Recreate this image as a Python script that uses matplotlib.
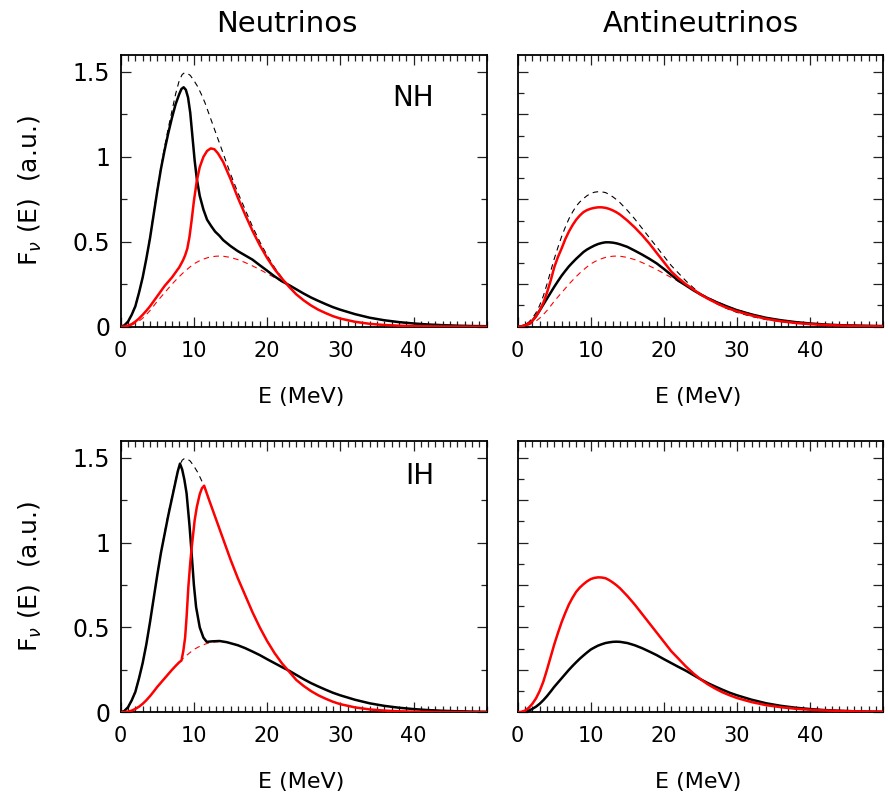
import matplotlib
matplotlib.use('Agg')
import matplotlib.pyplot as plt
from matplotlib.ticker import MultipleLocator

# ---------------- data ----------------
# unoscillated nu_e spectrum (dashed black, neutrino panels)
E_nue = [0, 0.5, 1, 1.5, 2, 2.5, 3, 3.5, 4, 4.5, 5, 5.5, 6, 6.5, 7, 7.5, 8, 8.4, 8.7, 9.1,
         9.5, 10, 10.5, 11, 11.5, 12, 12.5, 13, 13.5, 14, 15, 16, 17, 18, 19, 20,
         21, 22, 23, 24, 25, 26, 27, 28, 29, 30, 32, 34, 36, 38, 40, 44, 50]
nue_orig = [0, 0.008, 0.03, 0.07, 0.125, 0.2, 0.29, 0.4, 0.53, 0.67, 0.81, 0.94, 1.06, 1.17,
            1.27, 1.37, 1.45, 1.485, 1.495, 1.492, 1.48, 1.45, 1.415, 1.37, 1.32, 1.26, 1.2,
            1.14, 1.08, 1.02, 0.90, 0.79, 0.69, 0.59, 0.50, 0.42,
            0.35, 0.29, 0.24, 0.19, 0.155, 0.125, 0.10, 0.08, 0.062, 0.048, 0.029, 0.017,
            0.010, 0.006, 0.0035, 0.0012, 0]

# common energy grid for the smooth spectra
E_grid = [0, 0.5, 1, 1.5, 2, 2.5, 3, 3.5, 4, 4.5, 5, 5.5, 6, 6.5, 7, 7.5, 8, 8.5, 9, 9.5,
          10, 10.5, 11, 11.5, 12, 12.5, 13, 13.5, 14, 15, 16, 17, 18, 19, 20, 21, 22,
          23, 24, 25, 26, 27, 28, 29, 30, 32, 34, 36, 38, 40, 42, 44, 46, 48, 50]
# unoscillated nu_x spectrum (dashed red)
nux_orig = [0, 0.001, 0.004, 0.01, 0.02, 0.033, 0.05, 0.071, 0.095, 0.122, 0.15, 0.175, 0.20,
            0.225, 0.25, 0.273, 0.295, 0.316, 0.335, 0.353, 0.37, 0.382, 0.393, 0.401, 0.408,
            0.412, 0.415, 0.416, 0.415, 0.408, 0.395, 0.378, 0.358, 0.337, 0.313, 0.29, 0.267,
            0.245, 0.22, 0.195, 0.172, 0.152, 0.133, 0.115, 0.10, 0.074, 0.053, 0.038, 0.027,
            0.019, 0.013, 0.009, 0.006, 0.004, 0.003]
# unoscillated anti-nu_e spectrum (dashed black, antineutrino panels)
anue_orig = [0, 0.002, 0.01, 0.026, 0.05, 0.082, 0.125, 0.18, 0.25, 0.325, 0.40, 0.467, 0.53,
             0.585, 0.635, 0.675, 0.71, 0.735, 0.755, 0.772, 0.785, 0.792, 0.795, 0.794, 0.79,
             0.779, 0.765, 0.749, 0.73, 0.685, 0.635, 0.58, 0.525, 0.47, 0.415, 0.36, 0.315,
             0.27, 0.23, 0.195, 0.165, 0.14, 0.118, 0.10, 0.084, 0.06, 0.042, 0.03, 0.021,
             0.015, 0.011, 0.008, 0.006, 0.004, 0.003]

# NH, neutrinos (solid)
E_nh_nu_black = [0, 0.5, 1, 1.5, 2, 2.5, 3, 3.5, 4, 4.5, 5, 5.5, 6, 6.5, 7, 7.5, 8, 8.3, 8.6,
                 8.9, 9.2, 9.5, 9.8, 10.1, 10.4, 10.8, 11.3, 11.8, 12.4, 12.9, 13.5, 14,
                 15, 16, 17, 18, 19, 20, 21, 22, 23, 24, 25, 26, 27, 28, 29, 30,
                 32, 34, 36, 38, 40, 42, 44, 46, 48, 50]
nh_nu_black = [0, 0.008, 0.03, 0.07, 0.12, 0.2, 0.29, 0.4, 0.52, 0.66, 0.80, 0.93, 1.04, 1.14,
               1.23, 1.31, 1.37, 1.40, 1.41, 1.395, 1.35, 1.26, 1.12, 0.98, 0.87, 0.77, 0.69,
               0.63, 0.59, 0.56, 0.535, 0.51,
               0.475, 0.445, 0.42, 0.395, 0.362, 0.33, 0.297, 0.268, 0.245, 0.22, 0.195,
               0.172, 0.152, 0.133, 0.115, 0.10,
               0.074, 0.053, 0.038, 0.027, 0.019, 0.013, 0.009, 0.006, 0.004, 0.003]
E_nh_nu_red = [0, 0.5, 1, 1.5, 2, 2.5, 3, 3.5, 4, 4.5, 5, 5.5, 6, 6.5, 7, 7.5, 8, 8.5, 8.8,
               9.1, 9.4, 9.7, 10, 10.4, 10.8, 11.3, 11.8, 12.3, 12.8, 13.3, 14,
               15, 16, 17, 18, 19, 20, 21, 22, 23, 24, 25, 26, 27, 28, 29, 30,
               32, 34, 36, 38, 40, 44, 50]
nh_nu_red = [0, 0.001, 0.006, 0.015, 0.03, 0.048, 0.07, 0.094, 0.12, 0.15, 0.18, 0.21, 0.24,
             0.265, 0.29, 0.32, 0.35, 0.39, 0.42, 0.46, 0.53, 0.63, 0.74, 0.86, 0.94, 1.0,
             1.035, 1.05, 1.045, 1.02, 0.97,
             0.87, 0.76, 0.66, 0.565, 0.48, 0.405, 0.34, 0.285, 0.235, 0.19, 0.155, 0.125,
             0.10, 0.08, 0.062, 0.048,
             0.029, 0.017, 0.010, 0.006, 0.0035, 0.0012, 0]

# NH, antineutrinos (solid, on E_grid)
nh_anu_black = [0, 0.002, 0.008, 0.019, 0.035, 0.062, 0.095, 0.13, 0.165, 0.2, 0.235, 0.268,
                0.30, 0.328, 0.355, 0.378, 0.40, 0.42, 0.44, 0.455, 0.467, 0.478, 0.487, 0.493,
                0.497, 0.497, 0.495, 0.491, 0.485, 0.47, 0.448, 0.425, 0.40, 0.373, 0.34,
                0.305, 0.27, 0.243, 0.215, 0.19, 0.168, 0.148, 0.13, 0.113, 0.097, 0.072,
                0.052, 0.038, 0.027, 0.019, 0.013, 0.009, 0.007, 0.005, 0.004]
nh_anu_red = [0, 0.002, 0.008, 0.019, 0.035, 0.06, 0.095, 0.14, 0.20, 0.27, 0.35, 0.41, 0.46,
              0.515, 0.56, 0.598, 0.63, 0.655, 0.675, 0.687, 0.695, 0.70, 0.703, 0.703, 0.70,
              0.694, 0.685, 0.674, 0.66, 0.625, 0.585, 0.54, 0.49, 0.435, 0.38, 0.325, 0.285,
              0.25, 0.22, 0.19, 0.165, 0.143, 0.122, 0.105, 0.09, 0.066, 0.046, 0.032, 0.022,
              0.015, 0.010, 0.007, 0.005, 0.003, 0.002]

# IH, neutrinos (solid)
E_ih_nu_black = [0, 0.5, 1, 1.5, 2, 2.5, 3, 3.5, 4, 4.5, 5, 5.5, 6, 6.5, 7, 7.5, 7.8, 8.1,
                 8.4, 8.7, 9, 9.4, 9.7, 10, 10.3, 10.8, 11.3, 11.75, 12.5, 13.5, 14.5,
                 16, 17, 18, 19, 20, 21, 22, 23, 24, 25, 26, 27, 28, 29, 30,
                 32, 34, 36, 38, 40, 42, 44, 46, 48, 50]
ih_nu_black = [0, 0.008, 0.03, 0.07, 0.12, 0.2, 0.29, 0.4, 0.53, 0.67, 0.81, 0.94, 1.05, 1.16,
               1.26, 1.36, 1.42, 1.465, 1.43, 1.37, 1.29, 1.10, 0.93, 0.75, 0.62, 0.50, 0.44,
               0.415, 0.418, 0.42, 0.413,
               0.395, 0.378, 0.358, 0.337, 0.313, 0.29, 0.267, 0.245, 0.22, 0.195, 0.172,
               0.152, 0.133, 0.115, 0.10,
               0.074, 0.053, 0.038, 0.027, 0.019, 0.013, 0.009, 0.006, 0.004, 0.003]
E_ih_nu_red = [0, 0.5, 1, 1.5, 2, 2.5, 3, 3.5, 4, 4.5, 5, 5.5, 6, 6.5, 7, 7.5, 8, 8.3, 8.55,
               8.8, 9.0, 9.24, 9.5, 9.7, 10.1, 10.4, 10.8, 11.1, 11.4,
               12, 12.5, 13, 13.5, 14, 15, 16, 17, 18, 19, 20, 21, 22, 23, 24, 25, 26, 27,
               28, 29, 30, 32, 34, 36, 38, 40, 44, 50]
ih_nu_red = [0, 0.001, 0.004, 0.01, 0.02, 0.033, 0.05, 0.071, 0.095, 0.122, 0.15, 0.175, 0.20,
             0.225, 0.25, 0.273, 0.295, 0.305, 0.36, 0.44, 0.56, 0.737, 0.88, 0.97, 1.13,
             1.21, 1.285, 1.32, 1.335,
             1.26, 1.2, 1.14, 1.08, 1.02, 0.90, 0.79, 0.69, 0.59, 0.50, 0.42, 0.35, 0.29,
             0.24, 0.19, 0.155, 0.125, 0.10, 0.08, 0.062, 0.048, 0.029, 0.017, 0.010, 0.006,
             0.0035, 0.0012, 0]

# IH, antineutrinos (solid, on E_grid): complete swap
ih_anu_black = nux_orig
ih_anu_red = anue_orig

x_ticks = [0, 10, 20, 30, 40]
x_ticklabels = ['0', '10', '20', '30', '40']
y_ticks = [0, 0.5, 1, 1.5]
y_ticklabels = ['0', '0.5', '1', '1.5']
col_titles = ['Neutrinos', 'Antineutrinos']
hierarchy = ['NH', 'IH']

# ---------------- figure ----------------
plt.rcParams['font.family'] = ['DejaVu Sans']
plt.rcParams['mathtext.fontset'] = 'dejavusans'

W, H = 888.0, 792.0
fig = plt.figure(figsize=(W / 100, H / 100), dpi=100)

def make_ax(x0, x1, y0, y1):
    return fig.add_axes([x0 / W, 1 - y1 / H, (x1 - x0) / W, (y1 - y0) / H])

ax_tl = make_ax(120.7, 486.7, 55.0, 326.7)
ax_tr = make_ax(517.7, 883.3, 55.0, 326.7)
ax_bl = make_ax(120.7, 486.7, 440.7, 712.3)
ax_br = make_ax(517.7, 883.3, 440.7, 712.3)

RED = '#ff0000'
LW_S = 1.8
LW_D = 0.8
DASH = (5, 4)

def dashed(ax, x, y, c):
    ax.plot(x, y, color=c, lw=LW_D, dashes=DASH, zorder=2)

def solid(ax, x, y, c):
    ax.plot(x, y, color=c, lw=LW_S, zorder=3, solid_joinstyle='round')

# TL: NH neutrinos
dashed(ax_tl, E_nue, nue_orig, 'black')
dashed(ax_tl, E_grid, nux_orig, RED)
solid(ax_tl, E_nh_nu_black, nh_nu_black, 'black')
solid(ax_tl, E_nh_nu_red, nh_nu_red, RED)

# TR: NH antineutrinos
dashed(ax_tr, E_grid, anue_orig, 'black')
dashed(ax_tr, E_grid, nux_orig, RED)
solid(ax_tr, E_grid, nh_anu_black, 'black')
solid(ax_tr, E_grid, nh_anu_red, RED)

# BL: IH neutrinos
dashed(ax_bl, E_nue, nue_orig, 'black')
dashed(ax_bl, E_grid, nux_orig, RED)
solid(ax_bl, E_ih_nu_black, ih_nu_black, 'black')
solid(ax_bl, E_ih_nu_red, ih_nu_red, RED)

# BR: IH antineutrinos
dashed(ax_br, E_grid, anue_orig, 'black')
dashed(ax_br, E_grid, nux_orig, RED)
solid(ax_br, E_grid, ih_anu_black, 'black')
solid(ax_br, E_grid, ih_anu_red, RED)

for ax in (ax_tl, ax_tr, ax_bl, ax_br):
    ax.set_xlim(0, 50)
    ax.set_ylim(0, 1.6)
    ax.set_xticks(x_ticks)
    ax.set_xticklabels(x_ticklabels, fontsize=15)
    ax.xaxis.set_minor_locator(MultipleLocator(1))
    ax.tick_params(which='both', direction='in', top=True, right=True, width=0.9,
                   color='#222222')
    ax.tick_params(which='major', length=7)
    ax.tick_params(which='minor', length=4)
    ax.tick_params(axis='x', which='major', pad=10)
    for s in ax.spines.values():
        s.set_linewidth(1.3)
    ax.set_xlabel('E (MeV)', fontsize=16)
    ax.xaxis.label.set_va('baseline')
    ax.xaxis.set_label_coords(0.493, -0.28)

for ax in (ax_tl, ax_bl):
    ax.set_yticks(y_ticks)
    ax.set_yticklabels(y_ticklabels, fontsize=17)
    ax.yaxis.set_minor_locator(MultipleLocator(0.25))
    ax.tick_params(axis='y', which='major', pad=7.5)
    ax.set_ylabel(r'F$_{\nu}$ (E)  (a.u.)', fontsize=18)
    ax.yaxis.label.set_va('center')
    ax.yaxis.set_label_coords(-0.248, 0.5)

for ax in (ax_tr, ax_br):
    ax.yaxis.set_major_locator(MultipleLocator(0.25))
    ax.yaxis.set_minor_locator(MultipleLocator(0.125))
    ax.tick_params(axis='y', which='both', labelleft=False)

ax_tl.text(0.856, 0.812, hierarchy[0], transform=ax_tl.transAxes, ha='right',
           va='baseline', fontsize=20)
ax_bl.text(0.856, 0.841, hierarchy[1], transform=ax_bl.transAxes, ha='right',
           va='baseline', fontsize=20)

fig.text(286.5 / W, 1 - 31.7 / H, col_titles[0], ha='center', va='baseline', fontsize=21)
fig.text(701.0 / W, 1 - 31.7 / H, col_titles[1], ha='center', va='baseline', fontsize=21)

fig.savefig('out.png', dpi=100)
